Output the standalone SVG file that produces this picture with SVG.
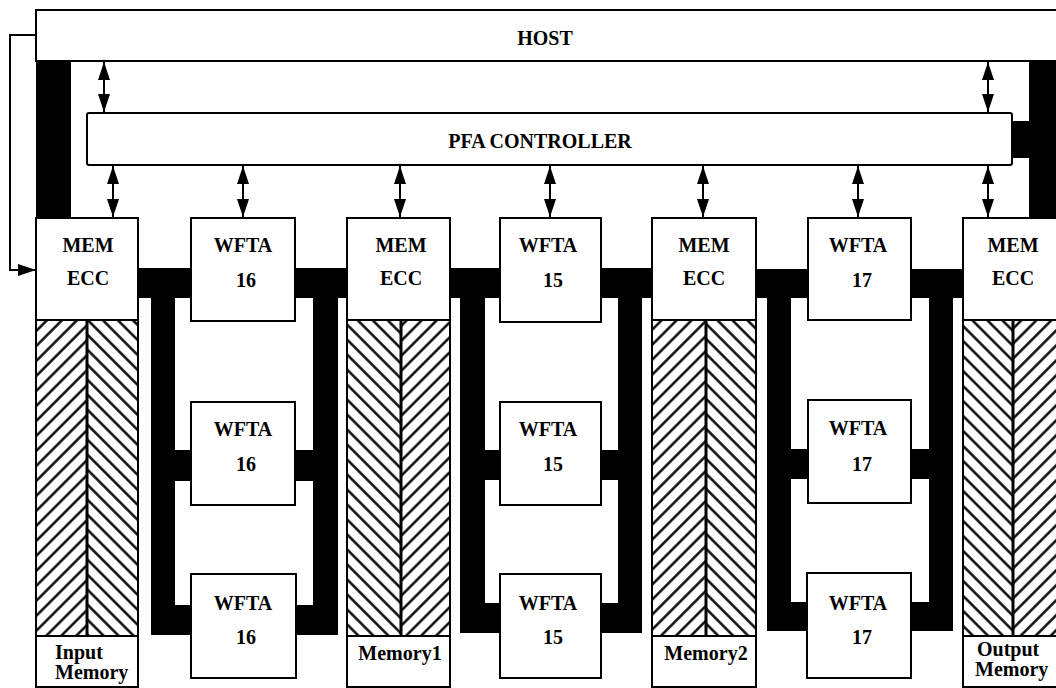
<svg xmlns="http://www.w3.org/2000/svg" width="1056" height="688" viewBox="0 0 1056 688">
<style>
.box{fill:#fff;stroke:#000;stroke-width:2}
.t{font-family:"Liberation Serif","Times New Roman",serif;font-weight:bold;font-size:20px;fill:#000;text-anchor:middle}
.tl{font-family:"Liberation Serif","Times New Roman",serif;font-weight:bold;font-size:20px;fill:#000}
.bus{fill:#000}
.wire{stroke:#000;stroke-width:2;fill:none}
.arr{stroke:#000;stroke-width:2;fill:none;marker-start:url(#ah);marker-end:url(#ah)}
.mid{stroke:#000;stroke-width:3}
</style>
<defs>
<marker id="ah" markerUnits="userSpaceOnUse" markerWidth="18" markerHeight="12" viewBox="0 0 18 12" refX="18" refY="6" orient="auto-start-reverse">
<path d="M0,0 L18,6 L0,12 z" fill="#000"/>
</marker>
<pattern id="hf" width="10.6" height="10.6" patternUnits="userSpaceOnUse" patternTransform="rotate(45)">
<line x1="5.3" y1="0" x2="5.3" y2="10.6" stroke="#000" stroke-width="2.4"/>
</pattern>
<pattern id="hb" width="10.6" height="10.6" patternUnits="userSpaceOnUse" patternTransform="rotate(-45)">
<line x1="5.3" y1="0" x2="5.3" y2="10.6" stroke="#000" stroke-width="2.4"/>
</pattern>
</defs>
<rect width="1056" height="688" fill="#fff"/>

<g id="connectors">
<!-- side bars host to mem -->
<rect class="bus" x="36" y="61" width="35" height="157"/>
<rect class="bus" x="1029" y="61" width="30" height="157"/>
<rect class="bus" x="1010" y="121" width="22" height="37"/>
<!-- group 1 bus -->
<rect class="bus" x="138" y="268" width="53" height="30"/>
<rect class="bus" x="295" y="268" width="52" height="30"/>
<rect class="bus" x="151" y="268" width="24" height="367"/>
<rect class="bus" x="313" y="268" width="25" height="367"/>
<rect class="bus" x="151" y="450" width="40" height="31"/>
<rect class="bus" x="295" y="450" width="43" height="31"/>
<rect class="bus" x="151" y="605" width="40" height="30"/>
<rect class="bus" x="295" y="605" width="43" height="30"/>
<!-- group 2 bus -->
<rect class="bus" x="450" y="268" width="50" height="30"/>
<rect class="bus" x="601" y="268" width="51" height="30"/>
<rect class="bus" x="460" y="268" width="25" height="365"/>
<rect class="bus" x="618" y="268" width="24" height="365"/>
<rect class="bus" x="460" y="450" width="40" height="30"/>
<rect class="bus" x="601" y="450" width="41" height="30"/>
<rect class="bus" x="460" y="603" width="40" height="30"/>
<rect class="bus" x="601" y="603" width="41" height="30"/>
<!-- group 3 bus -->
<rect class="bus" x="756" y="269" width="52" height="29"/>
<rect class="bus" x="911" y="269" width="52" height="29"/>
<rect class="bus" x="767" y="269" width="24" height="362"/>
<rect class="bus" x="929" y="269" width="24" height="362"/>
<rect class="bus" x="767" y="449" width="41" height="30"/>
<rect class="bus" x="911" y="449" width="42" height="30"/>
<rect class="bus" x="767" y="602" width="41" height="29"/>
<rect class="bus" x="911" y="602" width="42" height="29"/>
<!-- feedback line -->
<polyline class="wire" points="36,35 10,35 10,270 36,270" marker-end="url(#ah)"/>
<!-- host to controller -->
<line class="arr" x1="104" y1="62" x2="104" y2="112"/>
<line class="arr" x1="988" y1="62" x2="988" y2="112"/>
<!-- controller to units -->
<line class="arr" x1="113" y1="166" x2="113" y2="217"/>
<line class="arr" x1="243" y1="166" x2="243" y2="217"/>
<line class="arr" x1="400" y1="166" x2="400" y2="217"/>
<line class="arr" x1="550" y1="166" x2="550" y2="217"/>
<line class="arr" x1="703" y1="166" x2="703" y2="217"/>
<line class="arr" x1="858" y1="166" x2="858" y2="217"/>
<line class="arr" x1="988" y1="166" x2="988" y2="217"/>
</g>

<g id="host">
<rect class="box" x="36" y="10" width="1040" height="51"/>
<text class="t" x="545" y="45">HOST</text>
</g>

<g id="pfa-controller">
<rect class="box" x="87" y="113" width="925" height="52" rx="2"/>
<text class="t" x="540" y="148">PFA CONTROLLER</text>
</g>

<g id="mem-ecc-1">
<rect class="box" x="36" y="218" width="102" height="102"/>
<text class="t" x="88" y="252">MEM</text>
<text class="t" x="88" y="285">ECC</text>
</g>
<g id="input-memory">
<rect x="36" y="320" width="51" height="316" fill="url(#hf)"/>
<rect x="87" y="320" width="51" height="316" fill="url(#hb)"/>
<line class="mid" x1="87" y1="320" x2="87" y2="636"/>
<rect x="36" y="320" width="102" height="316" fill="none" stroke="#000" stroke-width="2"/>
<rect class="box" x="36" y="636" width="102" height="51"/>
<text class="tl" x="55" y="659">Input</text>
<text class="tl" x="55" y="679">Memory</text>
</g>

<g id="wfta16-a"><rect class="box" x="191" y="218" width="104" height="103"/><text class="t" x="243" y="252">WFTA</text><text class="t" x="246" y="287">16</text></g>
<g id="wfta16-b"><rect class="box" x="191" y="402" width="104" height="103"/><text class="t" x="243" y="436">WFTA</text><text class="t" x="246" y="471">16</text></g>
<g id="wfta16-c"><rect class="box" x="191" y="574" width="105" height="104"/><text class="t" x="243" y="610">WFTA</text><text class="t" x="246" y="644">16</text></g>

<g id="mem-ecc-2">
<rect class="box" x="347" y="218" width="103" height="102"/>
<text class="t" x="401" y="252">MEM</text>
<text class="t" x="401" y="285">ECC</text>
</g>
<g id="memory1">
<rect x="347" y="320" width="54" height="316" fill="url(#hb)"/>
<rect x="401" y="320" width="49" height="316" fill="url(#hf)"/>
<line class="mid" x1="401" y1="320" x2="401" y2="636"/>
<rect x="347" y="320" width="103" height="316" fill="none" stroke="#000" stroke-width="2"/>
<rect class="box" x="347" y="636" width="103" height="51"/>
<text class="t" x="400" y="660">Memory1</text>
</g>

<g id="wfta15-a"><rect class="box" x="500" y="218" width="101" height="104"/><text class="t" x="548" y="252">WFTA</text><text class="t" x="553" y="287">15</text></g>
<g id="wfta15-b"><rect class="box" x="500" y="402" width="101" height="103"/><text class="t" x="548" y="436">WFTA</text><text class="t" x="553" y="471">15</text></g>
<g id="wfta15-c"><rect class="box" x="500" y="574" width="101" height="104"/><text class="t" x="548" y="610">WFTA</text><text class="t" x="553" y="644">15</text></g>

<g id="mem-ecc-3">
<rect class="box" x="652" y="218" width="104" height="102"/>
<text class="t" x="704" y="252">MEM</text>
<text class="t" x="704" y="285">ECC</text>
</g>
<g id="memory2">
<rect x="652" y="320" width="54" height="316" fill="url(#hf)"/>
<rect x="706" y="320" width="50" height="316" fill="url(#hb)"/>
<line class="mid" x1="706" y1="320" x2="706" y2="636"/>
<rect x="652" y="320" width="104" height="316" fill="none" stroke="#000" stroke-width="2"/>
<rect class="box" x="652" y="636" width="104" height="51"/>
<text class="t" x="706" y="660">Memory2</text>
</g>

<g id="wfta17-a"><rect class="box" x="808" y="218" width="103" height="102"/><text class="t" x="858" y="252">WFTA</text><text class="t" x="862" y="287">17</text></g>
<g id="wfta17-b"><rect class="box" x="808" y="400" width="103" height="103"/><text class="t" x="858" y="435">WFTA</text><text class="t" x="862" y="471">17</text></g>
<g id="wfta17-c"><rect class="box" x="807" y="573" width="104" height="105"/><text class="t" x="858" y="610">WFTA</text><text class="t" x="862" y="644">17</text></g>

<g id="mem-ecc-4">
<rect class="box" x="963" y="218" width="100" height="102"/>
<text class="t" x="1013" y="252">MEM</text>
<text class="t" x="1013" y="285">ECC</text>
</g>
<g id="output-memory">
<rect x="963" y="320" width="50" height="316" fill="url(#hb)"/>
<rect x="1013" y="320" width="50" height="316" fill="url(#hf)"/>
<line class="mid" x1="1013" y1="320" x2="1013" y2="636"/>
<rect x="963" y="320" width="100" height="316" fill="none" stroke="#000" stroke-width="2"/>
<rect class="box" x="963" y="636" width="100" height="51"/>
<text class="tl" x="977" y="656">Output</text>
<text class="tl" x="975" y="676">Memory</text>
</g>
</svg>
